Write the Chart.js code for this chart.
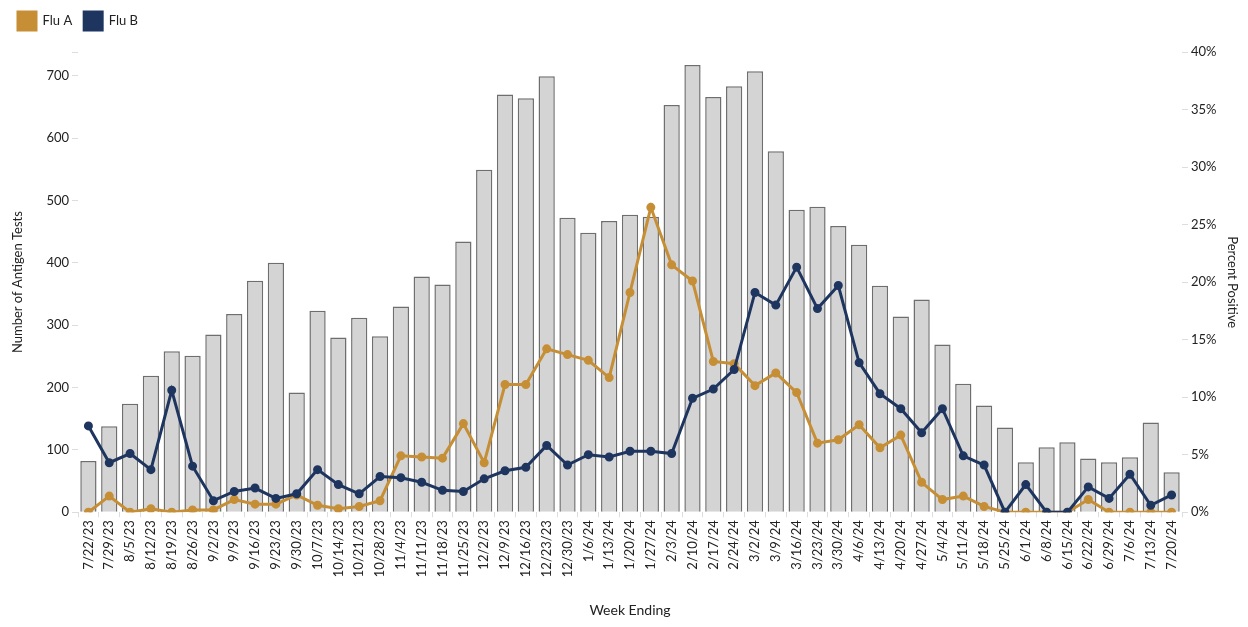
<!DOCTYPE html>
<html><head><meta charset="utf-8">
<script src="https://cdn.jsdelivr.net/npm/chart.js@4"></script>
<style>html,body{margin:0;padding:0;background:#fff}#w{width:1248px;height:627px}</style>
</head><body><div id="w"><canvas id="c"></canvas></div>
<script>
const weeks=["7/22/23","7/29/23","8/5/23","8/12/23","8/19/23","8/26/23","9/2/23","9/9/23","9/16/23","9/23/23","9/30/23","10/7/23","10/14/23","10/21/23","10/28/23","11/4/23","11/11/23","11/18/23","11/25/23","12/2/23","12/9/23","12/16/23","12/23/23","12/30/23","1/6/24","1/13/24","1/20/24","1/27/24","2/3/24","2/10/24","2/17/24","2/24/24","3/2/24","3/9/24","3/16/24","3/23/24","3/30/24","4/6/24","4/13/24","4/20/24","4/27/24","5/4/24","5/11/24","5/18/24","5/25/24","6/1/24","6/8/24","6/15/24","6/22/24","6/29/24","7/6/24","7/13/24","7/20/24"];
const antigenTests=[82,138,174,219,258,251,285,318,371,400,192,323,280,312,282,330,378,365,434,549,670,664,699,472,448,467,477,474,653,717,666,683,707,579,485,490,459,429,363,314,341,269,206,171,136,80,104,112,86,80,88,144,64];
const fluA=[0,1.4,0,0.3,0,0.2,0.2,1.1,0.7,0.7,1.5,0.6,0.3,0.5,1.0,4.9,4.8,4.7,7.7,4.3,11.1,11.1,14.2,13.7,13.2,11.7,19.1,26.5,21.5,20.1,13.1,12.9,11.0,12.1,10.4,6.0,6.3,7.6,5.6,6.7,2.6,1.1,1.4,0.5,0,0,0,0,1.1,0,0,0,0];
const fluB=[7.5,4.3,5.1,3.7,10.6,4.0,1.0,1.8,2.1,1.2,1.6,3.7,2.4,1.6,3.1,3.0,2.6,1.9,1.8,2.9,3.6,3.9,5.8,4.1,5.0,4.8,5.3,5.3,5.1,9.9,10.7,12.4,19.1,18.0,21.3,17.7,19.7,13.0,10.3,9.0,6.9,9.0,4.9,4.1,0,2.4,0,0,2.2,1.2,3.3,0.6,1.5];
const font="Lato, 'Open Sans', sans-serif";
Chart.defaults.font.family=font;Chart.defaults.color="#222";
new Chart(document.getElementById('c'),{
data:{labels:weeks,datasets:[
{type:'line',label:'Flu A',data:fluA,yAxisID:'y1',borderColor:'#C68E35',backgroundColor:'#C68E35',borderWidth:3,pointRadius:3,pointHoverRadius:3,order:1},
{type:'line',label:'Flu B',data:fluB,yAxisID:'y1',borderColor:'#1E3560',backgroundColor:'#1E3560',borderWidth:3,pointRadius:3,pointHoverRadius:3,order:0},
{type:'bar',label:'Tests',data:antigenTests,yAxisID:'y',backgroundColor:'#d4d4d4',borderColor:'#6e6e6e',borderWidth:1.5,barPercentage:0.78,categoryPercentage:1,order:2}
]},
options:{responsive:true,maintainAspectRatio:false,animation:false,
layout:{padding:{left:6,right:4,top:0,bottom:4}},
plugins:{legend:{position:'top',align:'start',labels:{boxWidth:18,boxHeight:18,padding:12,font:{size:13},filter:i=>i.text!=='Tests',sort:(a,b)=>a.datasetIndex-b.datasetIndex}},tooltip:{enabled:false}},
scales:{
x:{grid:{display:true,drawOnChartArea:false,tickLength:5,color:'#ddd'},border:{display:false},ticks:{maxRotation:90,minRotation:90,autoSkip:false,font:{size:13}},title:{display:true,text:'Week Ending',font:{size:14},padding:{top:22}}},
y:{position:'left',min:0,max:738,grid:{display:true,drawOnChartArea:false,tickLength:6,color:'#ddd'},border:{display:false},ticks:{stepSize:100,font:{size:13},callback:v=>v%100===0?v:''},title:{display:true,text:'Number of Antigen Tests',font:{size:13},padding:{bottom:14}},afterFit:s=>{s.width=72}},
y1:{position:'right',min:0,max:40,grid:{display:true,drawOnChartArea:false,tickLength:6,color:'#ddd'},border:{display:false},ticks:{stepSize:5,font:{size:13},callback:v=>v+'%'},title:{display:true,text:'Percent Positive',font:{size:13}},afterFit:s=>{s.width=62}}
}},
plugins:[{id:'pad',beforeInit(c){const f=c.legend.fit;c.legend.fit=function(){f.call(this);this.height+=12;};}}]
});
</script></body></html>
